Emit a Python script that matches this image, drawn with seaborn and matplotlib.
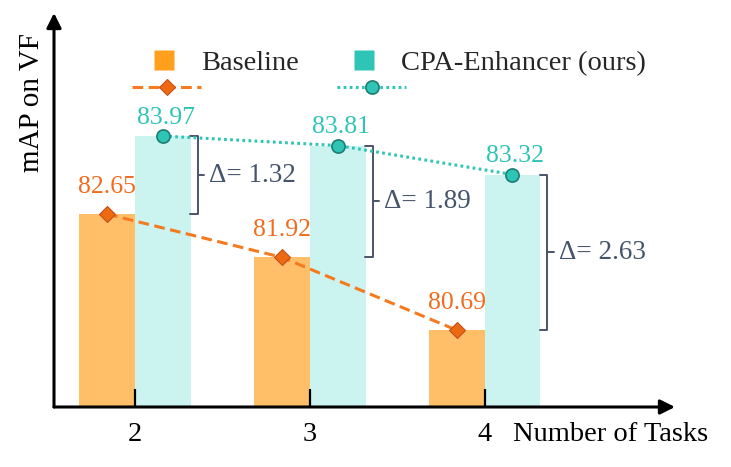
import matplotlib
matplotlib.use('Agg')
import matplotlib.pyplot as plt
import seaborn as sns
import pandas as pd
from matplotlib.lines import Line2D

# ---- data ----
tasks = ['2', '3', '4']
methods = ['Baseline', 'CPA-Enhancer (ours)']
baseline = [82.65, 81.92, 80.69]
cpa = [83.97, 83.81, 83.32]
deltas = [1.32, 1.89, 2.63]

sns.set_theme(style='white')
plt.rcParams['font.family'] = ['Liberation Serif', 'DejaVu Serif']

df = pd.DataFrame({
    'tasks': tasks * 2,
    'map': baseline + cpa,
    'method': [methods[0]] * len(tasks) + [methods[1]] * len(tasks),
})

ORANGE_BAR = '#FFBF69'
TEAL_BAR = '#CBF3F0'
ORANGE_SQ = '#FF9F1C'
TEAL_SQ = '#2EC4B6'
ORANGE_LINE = '#F57A20'
ORANGE_MK = '#EE6A12'
ORANGE_MK_E = '#C0501A'
TEAL_LINE = '#2EC4B6'
TEAL_MK = '#2EC4B6'
TEAL_MK_E = '#1E7D72'
ORANGE_TXT = '#F26B1D'
TEAL_TXT = '#2EC4B6'
DELTA_TXT = '#44546A'
BRACE = '#4B5468'

LW = 2.2
ODASH = (0, (3.5, 1.8))
TDOT = (0, (0.9, 1.1))
FS = 20.5

fig = plt.figure(figsize=(7.31, 4.67), dpi=100)
ax = fig.add_axes([54 / 731, 60 / 467, 621 / 731, 394 / 467])

sns.barplot(data=df, x='tasks', y='map', hue='method',
            palette=[ORANGE_BAR, TEAL_BAR], width=0.64, saturation=1,
            legend=False, ax=ax, linewidth=0)

ax.set_ylim(79.39, 86.05)
ax.set_xlim(-0.464, 3.09)

off = 0.16
xb = [i - off for i in range(len(tasks))]
xc = [i + off for i in range(len(tasks))]

sns.lineplot(x=xb, y=baseline, ax=ax, color=ORANGE_LINE, lw=LW,
             linestyle=ODASH, marker='D', markersize=8,
             markerfacecolor=ORANGE_MK, markeredgecolor=ORANGE_MK_E,
             markeredgewidth=0.8, zorder=5)
sns.lineplot(x=xc, y=cpa, ax=ax, color=TEAL_LINE, lw=LW,
             linestyle=TDOT, marker='o', markersize=9.5,
             markerfacecolor=TEAL_MK, markeredgecolor=TEAL_MK_E,
             markeredgewidth=1.2, zorder=5)

# value labels
for x, v in zip(xb, baseline):
    ax.annotate(f'{v:.2f}', (x, v), xytext=(0, 15), textcoords='offset points',
                ha='center', va='baseline', color=ORANGE_TXT, fontsize=18.5, zorder=6)
for x, v in zip(xc, cpa):
    ax.annotate(f'{v:.2f}', (x, v), xytext=(2, 9), textcoords='offset points',
                ha='center', va='baseline', color=TEAL_TXT, fontsize=18.5, zorder=6)

# delta braces
for i, (b, c, d) in enumerate(zip(baseline, cpa, deltas)):
    xr = i + 0.36
    mid = (b + c) / 2
    ax.plot([xr - 0.045, xr, xr, xr - 0.045], [c, c, b, b], color=BRACE,
            lw=1.4, solid_joinstyle='round', solid_capstyle='round', zorder=4)
    ax.plot([xr, xr + 0.035], [mid, mid], color=BRACE, lw=1.4, zorder=4)
    ax.text(xr + 0.065, mid, f'Δ= {d:.2f}', ha='left', va='center',
            fontsize=19.5, color=DELTA_TXT)

# axes styling
for s in ax.spines.values():
    s.set_visible(False)
ax.set_axisbelow(False)
ax.set_yticks([])
ax.set_xlabel('')
ax.set_ylabel('')
ax.tick_params(axis='x', direction='in', length=13, width=1.6, color='black',
               pad=11, labelsize=FS, labelcolor='black', bottom=True)

arrow = dict(arrowstyle='-|>', lw=2.2, color='black', mutation_scale=22,
             shrinkA=0, shrinkB=0)
ax.annotate('', xy=(0, 1), xytext=(0, 0), xycoords='axes fraction', arrowprops=arrow)
ax.annotate('', xy=(1, 0), xytext=(0, 0), xycoords='axes fraction', arrowprops=arrow)

fig.text(513 / 731, 1 - 441 / 467, 'Number of Tasks', ha='left', va='baseline',
         fontsize=FS, color='black')
fig.text(32 / 731, 1 - 103 / 467, 'mAP on VF', rotation=90, ha='center',
         va='center', fontsize=21, color='black')

# legend: squares with labels (top row)
px_per_em = FS * 100 / 72.0
sq1 = Line2D([], [], ls='none', marker='s', ms=14, mfc=ORANGE_SQ, mec='none')
sq2 = Line2D([], [], ls='none', marker='s', ms=14, mfc=TEAL_SQ, mec='none')
leg1 = fig.legend(handles=[sq1, sq2], labels=methods, ncol=2, frameon=False,
                  fontsize=FS, handlelength=21.35 / px_per_em,
                  handletextpad=27 / px_per_em, columnspacing=54 / px_per_em,
                  loc='upper left', bbox_to_anchor=(153 / 731, 1 - 50 / 467),
                  borderpad=0, borderaxespad=0)

# legend: line styles (second row)
ln1 = Line2D([], [], color=ORANGE_LINE, ls=ODASH, lw=LW, marker='D', ms=8,
             mfc=ORANGE_MK, mec=ORANGE_MK_E, mew=0.8)
ln2 = Line2D([], [], color=TEAL_LINE, ls=TDOT, lw=LW, marker='o', ms=9.5,
             mfc=TEAL_MK, mec=TEAL_MK_E, mew=1.2)
leg2 = fig.legend(handles=[ln1, ln2], labels=['', ''], ncol=2, frameon=False,
                  fontsize=FS, handlelength=69 / px_per_em, handletextpad=0,
                  columnspacing=136 / px_per_em,
                  loc='center left', bbox_to_anchor=(132 / 731, 1 - 90 / 467),
                  borderpad=0, borderaxespad=0)

fig.savefig('out.png', dpi=100)
